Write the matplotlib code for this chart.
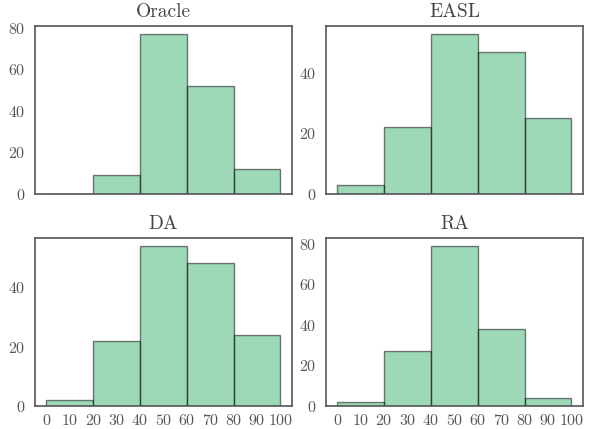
import numpy as np
import matplotlib
matplotlib.use('Agg')
import matplotlib.pyplot as plt
import seaborn as sns

# Histogram counts per score bin (each method: 150 samples)
BIN_EDGES = [0, 20, 40, 60, 80, 100]
TITLES = ['Oracle', 'EASL', 'DA', 'RA']
ORACLE = [0, 9, 77, 52, 12]
EASL = [3, 22, 53, 47, 25]
DA = [2, 22, 54, 48, 24]
RA = [2, 27, 79, 38, 4]
X_TICKS = list(range(0, 101, 10))

sns.set_style('white')
plt.rcParams['font.family'] = ['cmr10', 'DejaVu Serif']
plt.rcParams['axes.formatter.use_mathtext'] = True
plt.rcParams['mathtext.fontset'] = 'cm'


def plot_hist(ax, counts, title):
    edges = np.array(BIN_EDGES)
    ax.hist(edges[:-1], bins=edges, weights=counts,
            color='mediumseagreen', alpha=0.5, edgecolor='black', linewidth=1.0)
    ax.set_title(title, fontsize=14, color='#444444')
    ax.tick_params(labelsize=11.5, colors='#555555')
    ax.tick_params(axis='x', pad=1.5)
    for spine in ax.spines.values():
        spine.set_color('#555555')
        spine.set_linewidth(1.2)


if __name__ == '__main__':
    fig, axes = plt.subplots(2, 2, figsize=(5.89, 4.29), dpi=100, sharex=True)
    for ax, counts, title in zip(axes.flat, [ORACLE, EASL, DA, RA], TITLES):
        plot_hist(ax, counts, title)
    axes[1, 0].set_xticks(X_TICKS)
    plt.subplots_adjust(left=0.059, right=0.99, top=0.94, bottom=0.054,
                        wspace=0.13, hspace=0.26)
    plt.savefig('out.png')
